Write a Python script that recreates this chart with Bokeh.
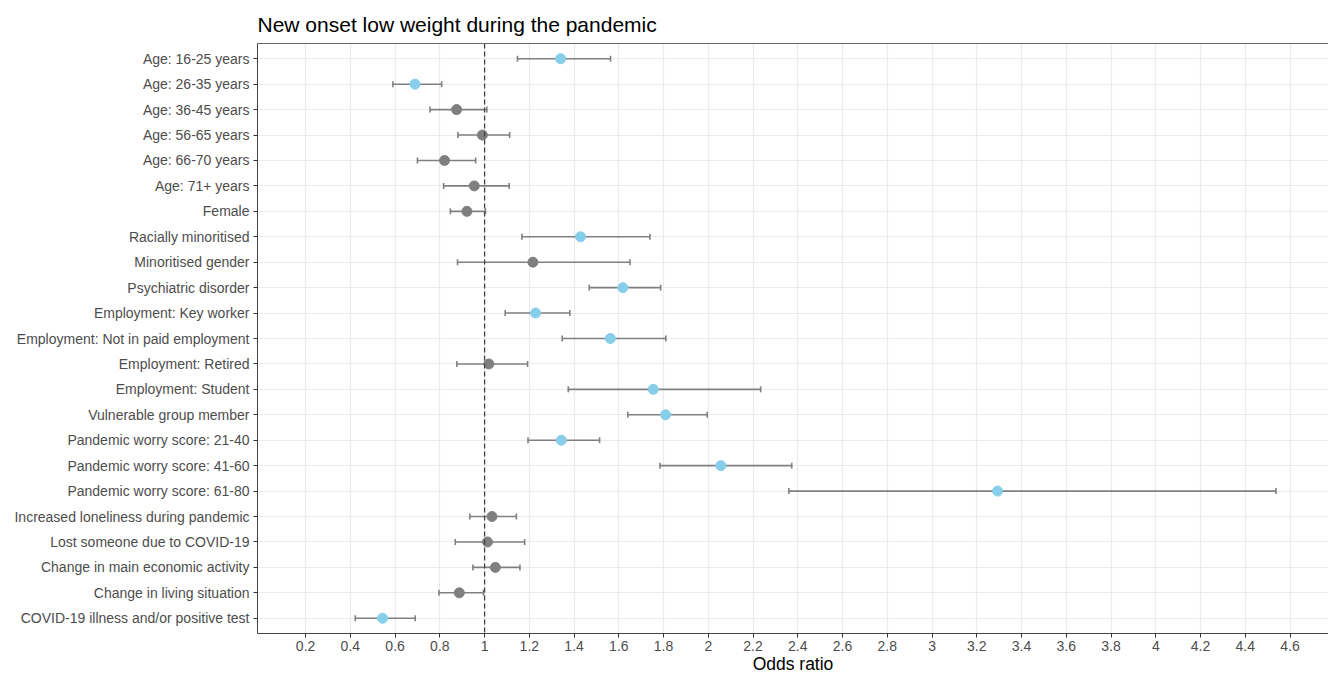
from bokeh.plotting import figure
from bokeh.models import ColumnDataSource, FixedTicker, Whisker, Span, LinearAxis, TeeHead, Range1d
from bokeh.embed import file_html
from bokeh.resources import INLINE

categories = [
    "Age: 16-25 years", "Age: 26-35 years", "Age: 36-45 years", "Age: 56-65 years",
    "Age: 66-70 years", "Age: 71+ years", "Female", "Racially minoritised",
    "Minoritised gender", "Psychiatric disorder", "Employment: Key worker",
    "Employment: Not in paid employment", "Employment: Retired", "Employment: Student",
    "Vulnerable group member", "Pandemic worry score: 21-40", "Pandemic worry score: 41-60",
    "Pandemic worry score: 61-80", "Increased loneliness during pandemic",
    "Lost someone due to COVID-19", "Change in main economic activity",
    "Change in living situation", "COVID-19 illness and/or positive test",
]
odds_ratio = [1.340, 0.689, 0.875, 0.990, 0.821, 0.954, 0.921, 1.429, 1.216, 1.618, 1.228,
              1.562, 1.019, 1.754, 1.809, 1.343, 2.056, 3.293, 1.033, 1.013, 1.048, 0.887, 0.544]
ci_lower = [1.147, 0.590, 0.756, 0.881, 0.700, 0.817, 0.847, 1.167, 0.879, 1.468, 1.092,
            1.347, 0.876, 1.374, 1.640, 1.194, 1.784, 2.360, 0.934, 0.869, 0.948, 0.796, 0.422]
ci_upper = [1.563, 0.808, 1.010, 1.112, 0.960, 1.110, 1.004, 1.739, 1.650, 1.787, 1.381,
            1.810, 1.192, 2.234, 1.995, 1.514, 2.373, 4.537, 1.142, 1.179, 1.158, 0.995, 0.690]
significant = [True, True, False, False, False, False, False, True, False, True, True,
               True, False, True, True, True, True, True, False, False, False, False, True]
x_ticks = [0.2, 0.4, 0.6, 0.8, 1.0, 1.2, 1.4, 1.6, 1.8, 2.0, 2.2, 2.4, 2.6, 2.8, 3.0,
           3.2, 3.4, 3.6, 3.8, 4.0, 4.2, 4.4, 4.6]
x_tick_labels = ["0.2", "0.4", "0.6", "0.8", "1", "1.2", "1.4", "1.6", "1.8", "2", "2.2",
                 "2.4", "2.6", "2.8", "3", "3.2", "3.4", "3.6", "3.8", "4", "4.2", "4.4", "4.6"]

n = len(categories)
ypos = [n - i for i in range(n)]
colors = ["#87CEEB" if s else "#7f7f7f" for s in significant]

source = ColumnDataSource(dict(y=ypos, odds=odds_ratio, lo=ci_lower, hi=ci_upper, color=colors))

FONT = "Liberation Sans"

p = figure(width=1328, height=676, output_backend="svg", toolbar_location=None,
           x_range=Range1d(-0.015, 4.772), y_range=Range1d(0.4, n + 0.6),
           min_border_left=257, min_border_right=0, min_border_top=43, min_border_bottom=0,
           title="New onset low weight during the pandemic")
p.title.text_font = FONT
p.title.text_font_size = "21px"
p.title.text_font_style = "normal"
p.title.text_color = "#000000"
p.title.offset = 0
p.title.standoff = 15

p.outline_line_color = None
p.background_fill_color = "white"
p.border_fill_color = "white"

# grid
p.xgrid.ticker = FixedTicker(ticks=x_ticks)
p.ygrid.ticker = FixedTicker(ticks=ypos)
p.xgrid.grid_line_color = "#ebebeb"
p.ygrid.grid_line_color = "#ebebeb"
p.xgrid.grid_line_width = 1.2
p.ygrid.grid_line_width = 1.2

# x axis
xa = p.xaxis[0]
xa.ticker = FixedTicker(ticks=x_ticks)
xa.major_label_overrides = {t: l for t, l in zip(x_ticks, x_tick_labels)}
xa.axis_label = "Odds ratio"
xa.axis_label_text_font = FONT
xa.axis_label_text_font_size = "17.5px"
xa.axis_label_text_font_style = "normal"
xa.axis_label_text_color = "#000000"
xa.axis_label_standoff = 0
xa.major_label_text_font = FONT
xa.major_label_text_font_size = "14px"
xa.major_label_text_color = "#4d4d4d"
xa.major_label_standoff = 3
xa.major_tick_out = 4
xa.major_tick_in = 0
xa.minor_tick_out = 0
xa.minor_tick_in = 0
xa.axis_line_color = "#444444"
xa.major_tick_line_color = "#333333"

# y axis
ya = p.yaxis[0]
ya.ticker = FixedTicker(ticks=ypos)
ya.major_label_overrides = {y: c for y, c in zip(ypos, categories)}
ya.major_label_text_font = FONT
ya.major_label_text_font_size = "14px"
ya.major_label_text_color = "#4d4d4d"
ya.major_label_standoff = 4
ya.major_tick_out = 4
ya.major_tick_in = 0
ya.minor_tick_out = 0
ya.minor_tick_in = 0
ya.axis_line_color = "#444444"
ya.major_tick_line_color = "#333333"

# top border as an empty axis
top = LinearAxis(ticker=FixedTicker(ticks=[]), major_tick_out=0, major_tick_in=0,
                 minor_tick_out=0, minor_tick_in=0, major_label_standoff=0,
                 major_label_text_font_size="0px", axis_line_color="#666666")
p.add_layout(top, "above")

# reference line at 1
p.add_layout(Span(location=1, dimension="height", line_color="#444444",
                  line_width=1.3, line_dash="5 3"))

# error bars
w = Whisker(source=source, base="y", lower="lo", upper="hi", dimension="width",
            line_color="#808080", line_width=1.6,
            lower_head=TeeHead(size=6, line_color="#808080", line_width=1.6),
            upper_head=TeeHead(size=6, line_color="#808080", line_width=1.6))
p.add_layout(w)

p.scatter(x="odds", y="y", source=source, size=10, fill_color="color", line_color="color")

open("out.html", "w").write(file_html(p, INLINE))
